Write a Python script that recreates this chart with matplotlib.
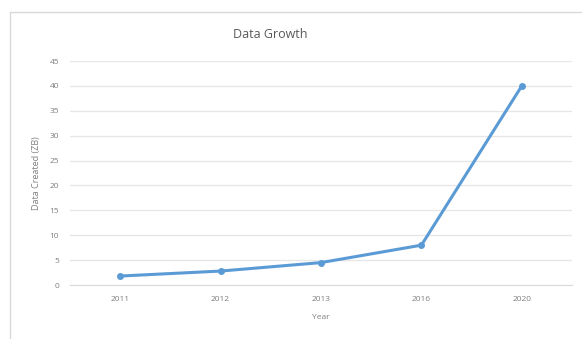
import matplotlib.pyplot as plt
from matplotlib.patches import Rectangle

# values
years = ["2011", "2012", "2013", "2016", "2020"]
data_zb = [1.8, 2.8, 4.5, 8.0, 40.0]
y_ticks = [0, 5, 10, 15, 20, 25, 30, 35, 40, 45]

plt.rcParams['font.family'] = ['Open Sans', 'DejaVu Sans']
text_color = '#7f7f7f'
line_color = '#5b9bd5'

fig = plt.figure(figsize=(5.82, 3.39), dpi=100)
fig.patch.set_facecolor('white')

# chart frame like the spreadsheet chart box
fig.patches.append(Rectangle((10 / 582, -0.05), 1.0, 1 - 12 / 339 + 0.05,
                             transform=fig.transFigure, fill=False,
                             edgecolor='#d9d9d9', linewidth=1.0))

ax = fig.add_axes([70 / 582, 1 - 285 / 339, 502 / 582, 224 / 339])
x = list(range(len(years)))
ax.plot(x, data_zb, color=line_color, linewidth=2.2, marker='o',
        markersize=4, zorder=3)

ax.set_xlim(-0.5, len(years) - 0.5)
ax.set_ylim(0, 45)
ax.set_yticks(y_ticks)
ax.set_xticks(x)
ax.set_xticklabels(years)
ax.grid(axis='y', color='#e6e6e6', linewidth=0.9)
ax.set_axisbelow(True)
for side in ['top', 'right', 'left']:
    ax.spines[side].set_visible(False)
ax.spines['bottom'].set_color('#d9d9d9')
ax.tick_params(length=0, labelsize=6, colors=text_color, pad=8)

ax.set_xlabel('Year', fontsize=6, color=text_color, labelpad=8)
ax.set_ylabel('Data Created (ZB)', fontsize=6.5, color=text_color, labelpad=6)
fig.text(270 / 582, 1 - 34 / 339, 'Data Growth', ha='center', va='center',
         fontsize=9, color='#595959')

fig.savefig('out.png', dpi=100)
